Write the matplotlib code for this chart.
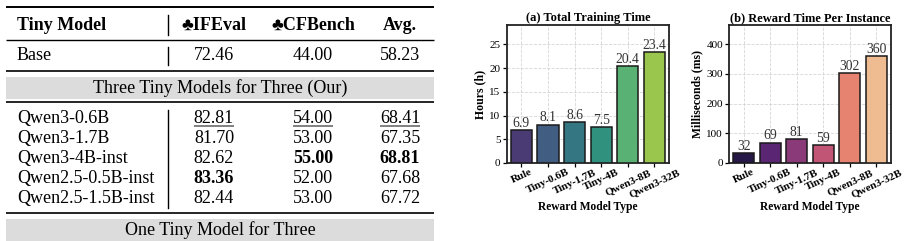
import colorsys
import matplotlib
matplotlib.use("Agg")
import matplotlib.pyplot as plt
import numpy as np

# ---- table data ----
base_name = "Base"
base_scores = [72.46, 44.00, 58.23]
col_headers = ["\u2663IFEval", "\u2663CFBench", "Avg."]
tiny_models = ["Qwen3-0.6B", "Qwen3-1.7B", "Qwen3-4B-inst", "Qwen2.5-0.5B-inst", "Qwen2.5-1.5B-inst"]
ifeval = [82.81, 81.70, 82.62, 83.36, 82.44]
cfbench = [54.00, 53.00, 55.00, 52.00, 53.00]
avg = [68.41, 67.35, 68.81, 67.68, 67.72]

# ---- bar chart data ----
reward_types = ["Rule", "Tiny-0.6B", "Tiny-1.7B", "Tiny-4B", "Qwen3-8B", "Qwen3-32B"]
train_hours = [6.9, 8.1, 8.6, 7.5, 20.4, 23.4]
reward_ms = [32, 69, 81, 59, 302, 360]

SERIF = ["Liberation Serif", "DejaVu Serif"]
plt.rcParams["font.family"] = SERIF


def palette(name, n, desat=0.75):
    # evenly spaced interior samples, desaturated like seaborn's barplot
    cmap = plt.get_cmap(name)
    out = []
    for v in np.linspace(0, 1, n + 2)[1:-1]:
        r, g, b, _ = cmap(v)
        h, l, s = colorsys.rgb_to_hls(r, g, b)
        out.append(colorsys.hls_to_rgb(h, l, s * desat))
    return out


fig = plt.figure(figsize=(9.08, 2.41), dpi=100)

# ---------------- table (drawn in pixel coords) ----------------
tab = fig.add_axes([0, 0, 1, 1])
tab.set_xlim(0, 908)
tab.set_ylim(241, 0)
tab.axis("off")

X0, X1 = 6, 434
XSEP = 168
XNAME = 17
XCOL = [214, 313, 400]
FS = 13

def hline(y, lw=1.2):
    tab.plot([X0, X1], [y, y], color="black", lw=lw, solid_capstyle="butt")

def band(y0, y1):
    tab.fill_between([X0, X1], y0, y1, color="#dcdcdc", lw=0)

hline(7, 1.4)
hline(39.5, 1.0)
hline(70.5, 1.2)
hline(101.5, 1.2)
hline(213, 1.2)
band(77, 99)
band(219, 241)

for ya, yb in [(15, 35), (47, 65), (110, 208)]:
    tab.plot([XSEP, XSEP], [ya, yb], color="black", lw=1.0)

tab.text(XNAME, 30, "Tiny Model", fontsize=FS, weight="bold", ha="left", va="baseline")
for x, h in zip(XCOL, col_headers):
    tab.text(x, 30, h, fontsize=FS, weight="bold", ha="center", va="baseline",
             family=["Liberation Serif", "DejaVu Sans"])

tab.text(XNAME, 60.5, base_name, fontsize=FS, ha="left", va="baseline")
for x, v in zip(XCOL, base_scores):
    tab.text(x, 60.5, f"{v:.2f}", fontsize=FS, ha="center", va="baseline")

tab.text((X0 + X1) / 2, 93, "Three Tiny Models for Three (Our)", fontsize=FS,
         ha="center", va="baseline")
tab.text((X0 + X1) / 2, 235, "One Tiny Model for Three", fontsize=FS,
         ha="center", va="baseline")

row_y = [123, 143, 163, 183, 203]
under = []
for x, vals in zip(XCOL, [ifeval, cfbench, avg]):
    order = np.argsort(vals)[::-1]
    best, second = order[0], order[1]
    for i, v in enumerate(vals):
        t = tab.text(x, row_y[i], f"{v:.2f}", fontsize=FS, ha="center", va="baseline",
                     weight="bold" if i == best else "normal")
        if i == second:
            under.append((t, row_y[i]))
for i, name in enumerate(tiny_models):
    tab.text(XNAME, row_y[i], name, fontsize=FS, ha="left", va="baseline")

fig.canvas.draw()
r = fig.canvas.get_renderer()
inv = tab.transData.inverted()
for t, y in under:
    bb = t.get_window_extent(r)
    (xa, _), (xb, _) = inv.transform([(bb.x0, bb.y0), (bb.x1, bb.y0)])
    tab.plot([xa, xb], [y + 3, y + 3], color="#808080", lw=1.4, solid_capstyle="butt")

# ---------------- bar charts ----------------
def bar_panel(rect, vals, cmap, title, ylabel, ylim, yticks, fmt):
    ax = fig.add_axes(rect)
    x = np.arange(len(vals))
    cols = palette(cmap, len(vals))
    ax.grid(True, ls="--", color="#cccccc", lw=0.6, alpha=0.8)
    ax.set_axisbelow(True)
    ax.bar(x, vals, width=0.8, color=cols, edgecolor="#1a1a1a", linewidth=1.1, zorder=3)
    for xi, v in zip(x, vals):
        ax.text(xi, v + ylim * 0.002, fmt(v), ha="center", va="bottom", fontsize=9.8,
                color="#333333", zorder=4)
    ax.set_xlim(-0.55, len(vals) - 0.45)
    ax.set_ylim(0, ylim)
    ax.set_yticks(yticks)
    ax.set_xticks(x)
    ax.set_xticklabels(reward_types, rotation=25, ha="center", fontsize=7.9, weight="bold")
    ax.tick_params(axis="y", labelsize=8, length=3, width=0.9, pad=1.5)
    ax.tick_params(axis="x", length=3, width=0.9, pad=0.5)
    for s in ax.spines.values():
        s.set_linewidth(1.3)
        s.set_color("#222222")
    ax.set_title(title, fontsize=9, weight="bold", pad=3)
    ax.set_ylabel(ylabel, fontsize=8.5, weight="bold", labelpad=2)
    ax.set_xlabel("Reward Model Type", fontsize=8.3, weight="bold", labelpad=1)
    return ax

bar_panel([0.558, 0.3237, 0.1788, 0.5726], train_hours, "viridis",
          "(a) Total Training Time", "Hours (h)", 29.1, [0, 5, 10, 15, 20, 25],
          lambda v: f"{v:.1f}")
bar_panel([0.8032, 0.3237, 0.1778, 0.5726], reward_ms, "magma",
          "(b) Reward Time Per Instance", "Milliseconds (ms)", 465,
          [0, 100, 200, 300, 400], lambda v: f"{v:d}")

fig.savefig("out.png", dpi=100, facecolor="white")
